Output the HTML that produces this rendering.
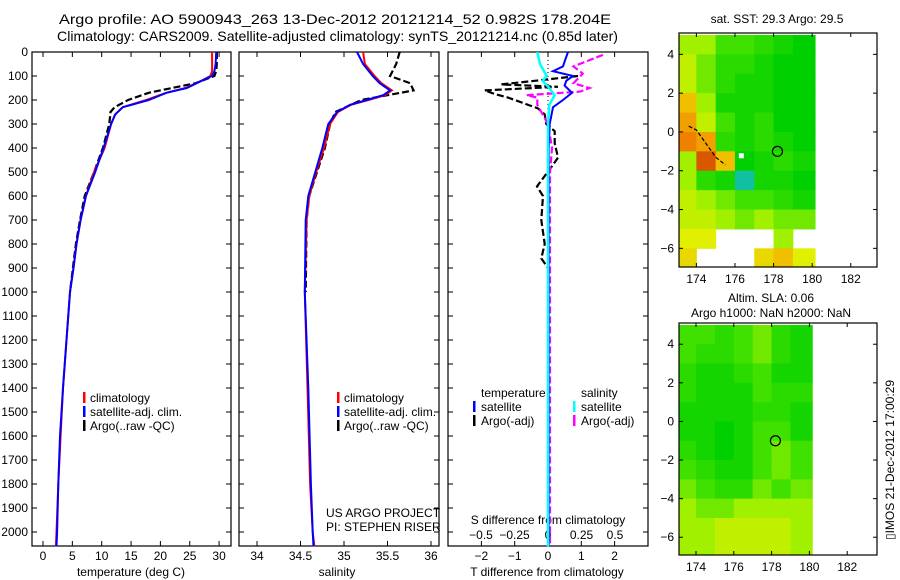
<!DOCTYPE html>
<html><head><meta charset="utf-8"><style>
html,body{margin:0;padding:0;background:#fff;}
svg{display:block;font-family:"Liberation Sans",sans-serif;}
</style></head><body>
<svg id="fig" width="900" height="580" viewBox="0 0 900 580" xmlns="http://www.w3.org/2000/svg">
<text x="59" y="24" font-size="14" textLength="552" lengthAdjust="spacingAndGlyphs">Argo profile: AO 5900943_263 13-Dec-2012 20121214_52 0.982S 178.204E</text>
<text x="57" y="41" font-size="14" textLength="561" lengthAdjust="spacingAndGlyphs">Climatology: CARS2009. Satellite-adjusted climatology: synTS_20121214.nc (0.85d later)</text>
<text x="777" y="23" font-size="12" text-anchor="middle">sat. SST: 29.3 Argo: 29.5</text>
<text x="771" y="302" font-size="12" text-anchor="middle">Altim. SLA: 0.06</text>
<text x="771" y="317" font-size="12" text-anchor="middle">Argo h1000: NaN h2000: NaN</text>
<text transform="translate(894,460) rotate(-90)" font-size="12" text-anchor="middle">▯IMOS 21-Dec-2012 17:00:29</text>
<g id="g"></g>
</svg>
<script>
// ---- profile data ----
const tempDepth=[0,50,80,100,120,150,170,200,230,260,300,400,500,600,700,800,900,1000,1200,1400,1600,1800,2000,2060];
const tempSat=[29.5,29.4,29.2,28.8,27,24.5,21,18,13.6,12.3,11.6,10.3,8.9,7.3,6.4,5.7,5.2,4.6,4.0,3.4,2.9,2.6,2.4,2.3];
const tempClim=[28.8,28.8,28.8,28.5,27,24.3,21,17.6,13.6,12.3,11.6,10.5,8.7,7.3,6.4,5.7,5.2,4.6,4.0,3.4,3.0,2.6,2.3,2.2];
const argoTDepth=[0,50,80,100,130,150,170,200,230,250,300,400,500,600,700,800,900,1000];
const argoTemp=[29.6,29.6,29.5,29.2,26,22,18,14.5,12.2,11.5,11.3,10.2,8.7,7.1,6.3,5.6,5.1,4.6];
const salDepth=[0,50,100,130,160,180,200,220,250,300,400,500,600,700,1000,1400,1800,2000,2060];
const salSat=[35.15,35.22,35.33,35.41,35.53,35.45,35.26,35.07,34.92,34.82,34.75,34.67,34.59,34.56,34.55,34.59,34.62,34.64,34.65];
const salClim=[35.22,35.24,35.35,35.43,35.55,35.47,35.28,35.08,34.93,34.84,34.77,34.68,34.6,34.57,34.55,34.58,34.61,34.64,34.66];
const argoSDepth=[0,50,100,130,160,180,200,250,300,400,500,600,700,1000];
const argoSal=[35.64,35.6,35.53,35.76,35.8,35.5,35.2,34.9,34.84,34.78,34.69,34.6,34.57,34.56];
// ---- difference data ----
const dTDepth=[0,40,60,80,100,120,140,170,200,230,300,400,2060];
const dTSat=[0.6,0.5,0.45,0.15,0.75,0.55,0.5,0.72,0.45,0.15,0.05,0.02,0.02];
const dSDepth=[0,50,100,120,150,180,220,300,2060];
const dSSat=[-0.08,-0.06,-0.01,-0.04,0.01,0.05,0.01,0,0];
const argoDTDepth=[100,120,135,145,160,175,190,210,235,260,300,330,380,440,470,560,600,700,800,860,900];
const argoDT=[0.9,-0.4,-1.4,0.3,-1.9,-1.6,-1.2,-0.8,-0.3,-0.1,-0.05,0.2,0.2,0.3,0.15,-0.33,-0.15,-0.2,-0.1,-0.2,0];
const argoDSDepth=[12,60,90,130,150,165,180,190,220,300,400,500,2060];
const argoDS=[0.41,0.19,0.26,0.19,0.31,0.24,-0.16,-0.08,-0.08,0,0.03,0.015,0.015];
// ---- map data (1 deg cells, lon 173..180, lat 5..-7, 0=teal .. 1=red) ----
const mapLons=[173,174,175,176,177,178,179];
const mapLats=[5,4,3,2,1,0,-1,-2,-3,-4,-5,-6];
const sstGrid=[
[0.55,0.55,0.45,0.45,0.4,0.35,0.3],
[0.6,0.5,0.4,0.4,0.35,0.3,0.3],
[0.6,0.5,0.4,0.35,0.35,0.3,0.3],
[0.75,0.55,0.35,0.35,0.35,0.3,0.3],
[0.8,0.6,0.45,0.35,0.4,0.3,0.3],
[0.85,0.8,0.4,0.35,0.4,0.35,0.3],
[0.55,0.9,0.75,0.3,0.35,0.4,0.35],
[0.55,0.4,0.35,0.1,0.35,0.35,0.3],
[0.6,0.55,0.5,0.45,0.45,0.4,0.35],
[0.6,0.6,0.55,0.5,0.55,0.5,0.5],
[0.65,0.65,null,null,null,0.55,null],
[0.7,null,null,null,0.7,0.75,0.65]];
const slaGrid=[
[0.45,0.45,0.4,0.45,0.5,0.4,0.35],
[0.45,0.4,0.4,0.45,0.5,0.4,0.35],
[0.4,0.35,0.35,0.4,0.45,0.35,0.35],
[0.4,0.35,0.35,0.35,0.45,0.4,0.4],
[0.35,0.35,0.35,0.35,0.4,0.4,0.35],
[0.35,0.35,0.3,0.35,0.45,0.45,0.35],
[0.4,0.35,0.3,0.35,0.45,0.5,0.45],
[0.45,0.4,0.35,0.35,0.45,0.5,0.45],
[0.5,0.45,0.4,0.4,0.5,0.45,0.5],
[0.55,0.5,0.5,0.55,0.55,0.55,0.55],
[0.55,0.55,0.6,0.6,0.6,0.6,0.55],
[0.55,0.55,0.6,0.6,0.6,0.6,0.55]];
const depthTicks=[0,100,200,300,400,500,600,700,800,900,1000,1100,1200,1300,1400,1500,1600,1700,1800,1900,2000];
const tempTicks=[0,5,10,15,20,25,30];
const salTicks=[34,34.5,35,35.5,36];
const salTickLabels=["34","34.5","35","35.5","36"];
const tdTicks=[-2,-1,0,1,2];
const sdTicks=[-0.5,-0.25,0,0.25,0.5];
const sdTickLabels=["\u22120.5","\u22120.25","0","0.25","0.5"];
const latTicks=[4,2,0,-2,-4,-6];
const lonTicks=[174,176,178,180,182];

const NS="http://www.w3.org/2000/svg";
const G=document.getElementById('g');
function mk(tag,attrs,name,parent){const e=document.createElementNS(NS,tag);for(const k in attrs)e.setAttribute(k,attrs[k]);


(parent||G).appendChild(e);return e;}
function txt(x,y,s,name,anchor,size){const t=mk('text',{x:x,y:y,'font-size':size||12,'text-anchor':anchor||'start'},name);t.textContent=s;return t;}

const yD=d=>52+d*0.24;
const P1={x0:32,x1:231}, P2={x0:239,x1:439}, P3={x0:448,x1:648};
const xT=v=>43+v*5.87;
const xS=v=>257+(v-34)*87;
const xTD=v=>548+v*33.3;
const xSD=v=>548+v*134;

function panelBox(P,name){mk('rect',{x:P.x0,y:52,width:P.x1-P.x0,height:494,fill:'none',stroke:'#000','stroke-width':1.2},name);}
function line(xs,ds,fx,color,w,dash,name){
  const pts=xs.map((v,i)=>fx(v).toFixed(1)+','+yD(ds[i]).toFixed(1)).join(' ');
  const a={points:pts,fill:'none',stroke:color,'stroke-width':w};if(dash)a['stroke-dasharray']=dash;
  mk('polyline',a,name);
}
[P1,P2,P3].forEach((P,i)=>{panelBox(P,'panel-'+(i+1)+'-frame');
  depthTicks.forEach(d=>{mk('line',{x1:P.x0,x2:P.x0+5,y1:yD(d),y2:yD(d),stroke:'#000'},'depth-tick');
    mk('line',{x1:P.x1-5,x2:P.x1,y1:yD(d),y2:yD(d),stroke:'#000'},'depth-tick');});
});
depthTicks.forEach(d=>txt(28,yD(d)+4,String(d),'depth-tick-label','end',12));
// panel 1
tempTicks.forEach(v=>{mk('line',{x1:xT(v),x2:xT(v),y1:546,y2:541,stroke:'#000'},'temp-tick');mk('line',{x1:xT(v),x2:xT(v),y1:52,y2:57,stroke:'#000'},'temp-tick');txt(xT(v),560,String(v),'temp-tick-label','middle');});
txt(131,576,'temperature (deg C)','temp-axis-title','middle');
line(argoTemp,argoTDepth,xT,'#000',2.2,'7 3','argo-temp-line');
line(tempClim,tempDepth,xT,'#f00',2,null,'clim-temp-line');
line(tempSat,tempDepth,xT,'#00f',2,null,'sat-temp-line');
// panel 2
salTicks.forEach((v,i)=>{mk('line',{x1:xS(v),x2:xS(v),y1:546,y2:541,stroke:'#000'},'sal-tick');mk('line',{x1:xS(v),x2:xS(v),y1:52,y2:57,stroke:'#000'},'sal-tick');txt(xS(v),560,salTickLabels[i],'sal-tick-label','middle');});
txt(337,576,'salinity','sal-axis-title','middle');
line(argoSal,argoSDepth,xS,'#000',2.2,'7 3','argo-sal-line');
line(salClim,salDepth,xS,'#f00',2,null,'clim-sal-line');
line(salSat,salDepth,xS,'#00f',2,null,'sat-sal-line');
txt(326,517,'US ARGO PROJECT','project-label','start');
txt(326,531,'PI: STEPHEN RISER','pi-label','start');
// legends
function legend(x,y,name){[['#f00','climatology'],['#00f','satellite-adj. clim.'],['#000','Argo(..raw -QC)']].forEach((l,i)=>{
  mk('rect',{x:x,y:y+i*14-10,width:2.5,height:11,fill:l[0]},name+'-swatch');txt(x+7,y+i*14,l[1],name+'-label','start',12);});}
legend(83,402,'temp-legend');
legend(337,402,'sal-legend');
// panel 3
tdTicks.forEach(v=>{mk('line',{x1:xTD(v),x2:xTD(v),y1:546,y2:541,stroke:'#000'},'tdiff-tick');mk('line',{x1:xTD(v),x2:xTD(v),y1:52,y2:57,stroke:'#000'},'tdiff-tick');txt(xTD(v),560,v<0?'\u2212'+(-v):String(v),'tdiff-tick-label','middle');});
sdTicks.forEach((v,i)=>txt(xSD(v),539,sdTickLabels[i],'sdiff-tick-label','middle'));
txt(548,524,'S difference from climatology','sdiff-axis-title','middle');
txt(547,576,'T difference from climatology','tdiff-axis-title','middle');
mk('line',{x1:548,x2:548,y1:52,y2:130,stroke:'#000','stroke-dasharray':'1 3'},'zero-line');
line(argoDT,argoDTDepth,xTD,'#000',2.2,'7 3','argo-tdiff-line');
line(argoDS,argoDSDepth,xSD,'#f0f',2.2,'7 3','argo-sdiff-line');
line(dTSat,dTDepth,xTD,'#00f',2,null,'sat-tdiff-line');
line(dSSat,dSDepth,xSD,'#0ff',2.5,null,'sat-sdiff-line');
[['temperature',481,397,null],['satellite',481,411,'#00f'],['Argo(-adj)',481,425,'#000']].forEach(l=>{if(l[3])mk('rect',{x:l[1]-8,y:l[2]-10,width:2.5,height:11,fill:l[3]},'tdiff-legend-swatch');txt(l[1],l[2],l[0],'tdiff-legend-label','start');});
[['salinity',581,397,null],['satellite',581,411,'#0ff'],['Argo(-adj)',581,425,'#f0f']].forEach(l=>{if(l[3])mk('rect',{x:l[1]-8,y:l[2]-10,width:2.5,height:11,fill:l[3]},'sdiff-legend-swatch');txt(l[1],l[2],l[0],'sdiff-legend-label','start');});
// maps
function cmap(v){const stops=[[0.1,[16,192,160]],[0.3,[0,208,0]],[0.45,[64,224,0]],[0.55,[160,240,0]],[0.65,[224,240,0]],[0.75,[240,192,0]],[0.85,[240,128,0]],[0.95,[192,48,0]]];
  if(v<=stops[0][0])return 'rgb('+stops[0][1]+')';
  for(let i=1;i<stops.length;i++){if(v<=stops[i][0]){const a=stops[i-1],b=stops[i],t=(v-a[0])/(b[0]-a[0]);return 'rgb('+a[1].map((c,k)=>Math.round(c+(b[1][k]-c)*t)).join(',')+')';}}
  return 'rgb('+stops[stops.length-1][1]+')';}
function drawMap(M,grid,name){
  const fx=lon=>M.x0+(lon-M.lon0)*M.sx, fy=lat=>M.y0+(M.lat0-lat)*M.sy;
  const clipId=name+'-clip';
  const cp=mk('clipPath',{id:clipId},name+'-clip');mk('rect',{x:M.x0,y:M.y0,width:M.w,height:M.h},name+'-clip-rect',cp);
  const cg=mk('g',{'clip-path':'url(#'+clipId+')'},name+'-cells');
  grid.forEach((row,r)=>row.forEach((v,c)=>{if(v===null)return;
    const lon=mapLons[c],lat=mapLats[r];const x=fx(lon),y=fy(lat);
    const w=fx(lon+1+(c===6?0.15:0))-x+0.5;
    mk('rect',{x:x,y:y,width:w,height:fy(lat-1)-y+0.5,fill:cmap(v)},name+'-cell',cg);}));
  mk('rect',{x:M.x0,y:M.y0,width:M.w,height:M.h,fill:'none',stroke:'#000','stroke-width':1.2},name+'-frame');
  latTicks.forEach(v=>{const y=fy(v);mk('line',{x1:M.x0,x2:M.x0+4,y1:y,y2:y,stroke:'#000'},name+'-lat-tick');mk('line',{x1:M.x0+M.w-4,x2:M.x0+M.w,y1:y,y2:y,stroke:'#000'},name+'-lat-tick');txt(M.x0-5,y+4,v<0?'\u2212'+(-v):String(v),name+'-lat-label','end');});
  lonTicks.forEach(v=>{const x=fx(v);mk('line',{x1:x,x2:x,y1:M.y0,y2:M.y0+4,stroke:'#000'},name+'-lon-tick');mk('line',{x1:x,x2:x,y1:M.y0+M.h-4,y2:M.y0+M.h,stroke:'#000'},name+'-lon-tick');txt(x,M.y0+M.h+16,String(v),name+'-lon-label','middle');});
  mk('circle',{cx:fx(178.2),cy:fy(-1),r:5,fill:'none',stroke:'#000','stroke-width':1.2},name+'-argo-location');
  return {fx,fy};
}
const m1=drawMap({x0:679,y0:33,w:198,h:234,lon0:173.1,lat0:5.1,sx:19.3,sy:19.4},sstGrid,'sst-map');
mk('polyline',{points:[[173.6,0.3],[174.0,0.1],[174.5,-0.6],[175.0,-1.3],[175.5,-1.7]].map(p=>m1.fx(p[0])+','+m1.fy(p[1])).join(' '),fill:'none',stroke:'#000','stroke-width':1.2,'stroke-dasharray':'4 2'},'sst-map-coastline');
mk('rect',{x:m1.fx(176.2),y:m1.fy(-1.1),width:5,height:5,fill:'#fff'},'sst-map-island');
drawMap({x0:679,y0:323,w:198,h:232,lon0:173.1,lat0:5.1,sx:18.9,sy:19.3},slaGrid,'sla-map');
</script>
</body></html>
